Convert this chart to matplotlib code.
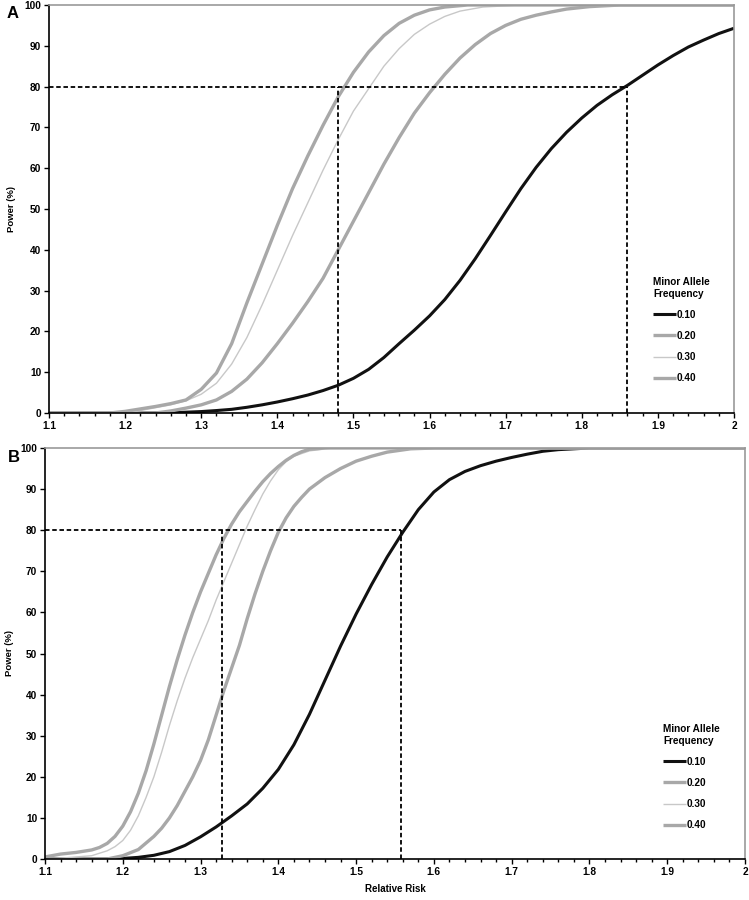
import matplotlib
matplotlib.use("Agg")
import matplotlib.pyplot as plt
from matplotlib.ticker import MultipleLocator

plt.rcParams['font.family'] = ['Liberation Sans', 'DejaVu Sans']
plt.rcParams['font.weight'] = 'bold'

# PANEL A data (relative risk vs power %)
rr_a_010 = [1.10, 1.25, 1.28, 1.30, 1.32, 1.34, 1.36, 1.38, 1.40, 1.42, 1.44, 1.46, 1.48,
            1.50, 1.52, 1.54, 1.56, 1.58, 1.60, 1.62, 1.64, 1.66, 1.68, 1.70, 1.72, 1.74,
            1.76, 1.78, 1.80, 1.82, 1.84, 1.86, 1.88, 1.90, 1.92, 1.94, 1.96, 1.98, 2.0]
pw_a_010 = [0, 0, 0.2, 0.35, 0.6, 0.9, 1.4, 2.0, 2.7, 3.5, 4.4, 5.5, 6.8,
            8.5, 10.7, 13.6, 17, 20.3, 23.8, 27.8, 32.5, 37.8, 43.5, 49.3, 55, 60.2,
            64.8, 68.8, 72.3, 75.4, 78.0, 80.3, 82.8, 85.3, 87.6, 89.7, 91.4, 93, 94.3]
rr_a_020 = [1.10, 1.24, 1.26, 1.28, 1.30, 1.32, 1.34, 1.36, 1.38, 1.40, 1.42, 1.44, 1.46,
            1.48, 1.50, 1.52, 1.54, 1.56, 1.58, 1.60, 1.62, 1.64, 1.66, 1.68, 1.70, 1.72,
            1.74, 1.76, 1.78, 1.81, 1.85, 2.0]
pw_a_020 = [0, 0, 0.5, 1.2, 2.0, 3.2, 5.3, 8.3, 12.3, 17, 22, 27.3, 33,
            40, 47, 54, 61, 67.5, 73.5, 78.5, 83, 87, 90.3, 93, 95, 96.5,
            97.5, 98.3, 99, 99.6, 100, 100]
rr_a_030 = [1.10, 1.20, 1.22, 1.24, 1.26, 1.28, 1.30, 1.32, 1.34, 1.36, 1.38, 1.40, 1.42,
            1.44, 1.46, 1.48, 1.50, 1.52, 1.54, 1.56, 1.58, 1.60, 1.62, 1.64, 1.67, 1.72, 2.0]
pw_a_030 = [0, 0, 0.6, 1.3, 2.0, 3.0, 4.6, 7.3, 12, 18.5, 26.5, 35, 43.5,
            51.5, 59.5, 67, 74, 79.5, 85, 89.3, 92.8, 95.3, 97.2, 98.5, 99.5, 100, 100]
rr_a_040 = [1.10, 1.18, 1.20, 1.22, 1.24, 1.26, 1.28, 1.30, 1.32, 1.34, 1.36, 1.38, 1.40,
            1.42, 1.44, 1.46, 1.48, 1.50, 1.52, 1.54, 1.56, 1.58, 1.60, 1.62, 1.65, 2.0]
pw_a_040 = [0, 0, 0.4, 1.0, 1.6, 2.3, 3.2, 5.8, 9.8, 17, 27, 36.5, 46,
            55, 63, 70.5, 77.5, 83.5, 88.5, 92.5, 95.5, 97.5, 98.8, 99.5, 100, 100]
cut_a = [1.48, 1.86]

# PANEL B data
rr_b_010 = [1.10, 1.19, 1.22, 1.24, 1.26, 1.28, 1.30, 1.32, 1.34, 1.36, 1.38, 1.40, 1.42,
            1.44, 1.46, 1.48, 1.50, 1.52, 1.54, 1.56, 1.58, 1.60, 1.62, 1.64, 1.66, 1.68,
            1.70, 1.72, 1.74, 1.76, 1.80, 2.0]
pw_b_010 = [0, 0, 0.4, 0.9, 1.8, 3.3, 5.4, 7.8, 10.5, 13.4, 17.2, 21.8, 27.8,
            35.2, 43.5, 51.8, 59.6, 66.8, 73.5, 79.5, 85, 89.3, 92.3, 94.3, 95.7, 96.8,
            97.7, 98.5, 99.2, 99.6, 100, 100]
rr_b_020 = [1.10, 1.18, 1.20, 1.22, 1.24, 1.25, 1.26, 1.27, 1.28, 1.29, 1.30, 1.31, 1.32,
            1.33, 1.34, 1.35, 1.36, 1.37, 1.38, 1.39, 1.40, 1.41, 1.42, 1.43, 1.44, 1.46,
            1.48, 1.50, 1.52, 1.54, 1.57, 1.60, 2.0]
pw_b_020 = [0, 0, 0.8, 2.3, 5.5, 7.5, 10, 13, 16.5, 20, 24, 29, 35,
            41, 46.5, 52, 58.5, 64.5, 70, 75, 79.5, 83, 85.8, 88, 90, 92.8,
            95, 96.8, 98, 99, 99.8, 100, 100]
rr_b_030 = [1.10, 1.12, 1.14, 1.16, 1.18, 1.19, 1.20, 1.21, 1.22, 1.23, 1.24, 1.25, 1.26,
            1.27, 1.28, 1.29, 1.30, 1.31, 1.32, 1.33, 1.34, 1.35, 1.36, 1.37, 1.38, 1.39,
            1.40, 1.41, 1.42, 1.44, 1.47, 2.0]
pw_b_030 = [0, 0.2, 0.5, 0.8, 2, 3, 4.5, 7, 10.5, 15, 20, 26, 32.5,
            38.5, 44, 49, 53.5, 58, 63, 67.5, 72, 76.5, 81, 85, 88.8, 92,
            94.7, 96.7, 98, 99.3, 100, 100]
rr_b_040 = [1.10, 1.12, 1.14, 1.16, 1.17, 1.18, 1.19, 1.20, 1.21, 1.22, 1.23, 1.24, 1.25,
            1.26, 1.27, 1.28, 1.29, 1.30, 1.31, 1.32, 1.33, 1.34, 1.35, 1.36, 1.37, 1.38,
            1.39, 1.40, 1.41, 1.42, 1.43, 1.44, 1.46, 2.0]
pw_b_040 = [0.5, 1.2, 1.6, 2.2, 2.8, 3.8, 5.5, 8, 11.5, 16, 21.5, 28, 35,
            42, 48.5, 54.5, 60, 65, 69.5, 74, 78, 81.5, 84.5, 87, 89.5, 91.8,
            93.8, 95.5, 97, 98.2, 99.1, 99.7, 100, 100]
cut_b = [1.327, 1.558]

maf_labels = ['0.10', '0.20', '0.30', '0.40']
line_styles = [
    {'color': '#111111', 'lw': 2.2},
    {'color': '#a8a8a8', 'lw': 2.4},
    {'color': '#c8c8c8', 'lw': 1.0},
    {'color': '#a8a8a8', 'lw': 2.4},
]


def draw_panel(ax, curves, cuts, legend_anchor, ylab_x):
    for (rr, pw), lab, st in zip(curves, maf_labels, line_styles):
        ax.plot(rr, pw, label=lab, solid_capstyle='butt', solid_joinstyle='round', **st)

    # 80% power guide lines
    dash = dict(color='black', lw=1.3, ls=(0, (2.5, 1.5)))
    ax.plot([1.1, cuts[1]], [80, 80], **dash)
    for c in cuts:
        ax.plot([c, c], [0, 80], **dash)

    ax.set_xlim(1.1, 2.0)
    ax.set_ylim(0, 100)
    ax.xaxis.set_major_locator(MultipleLocator(0.1))
    ax.xaxis.set_minor_locator(MultipleLocator(0.02))
    ax.yaxis.set_major_locator(MultipleLocator(10))
    ax.xaxis.set_major_formatter(plt.FuncFormatter(lambda v, p: f"{v:g}"))
    ax.tick_params(axis='both', which='major', direction='out', length=3.5,
                   width=1, labelsize=7.3, pad=2)
    ax.tick_params(axis='x', which='minor', direction='out', length=2.5, width=1)
    for s in ['left', 'bottom']:
        ax.spines[s].set_color('black')
        ax.spines[s].set_linewidth(1.2)
    for s in ['top', 'right']:
        ax.spines[s].set_color('#999999')
        ax.spines[s].set_linewidth(1.2)
    for t in ax.get_xticklabels() + ax.get_yticklabels():
        t.set_fontweight('bold')

    ax.set_ylabel('Power (%)', fontsize=6.8, fontweight='bold')
    ax.yaxis.set_label_coords(ylab_x, 0.5)

    leg = ax.legend(title='Minor Allele\nFrequency', frameon=False,
                    loc='upper left', bbox_to_anchor=legend_anchor,
                    bbox_transform=fig.transFigure, borderpad=0, borderaxespad=0,
                    handlelength=2.3, handletextpad=0.05, labelspacing=1.12,
                    alignment='left', prop={'size': 7.2, 'weight': 'bold'},
                    title_fontproperties={'size': 7.2, 'weight': 'bold'})
    leg._legend_box.sep = 8


fig = plt.figure(figsize=(7.49, 9.0), dpi=100)
ax_a = fig.add_axes([49 / 749, 1 - 413 / 900, (734 - 49) / 749, (413 - 5) / 900])
ax_b = fig.add_axes([45 / 749, 1 - 859 / 900, (745 - 45) / 749, (859 - 448) / 900])

draw_panel(ax_a, [(rr_a_010, pw_a_010), (rr_a_020, pw_a_020),
                  (rr_a_030, pw_a_030), (rr_a_040, pw_a_040)],
           cut_a, (653 / 749, 1 - 277 / 900), (16 - 49) / 685)
draw_panel(ax_b, [(rr_b_010, pw_b_010), (rr_b_020, pw_b_020),
                  (rr_b_030, pw_b_030), (rr_b_040, pw_b_040)],
           cut_b, (663 / 749, 1 - 724 / 900), (14 - 45) / 700)

ax_b.set_xlabel('Relative Risk', fontsize=7, fontweight='bold')
ax_b.xaxis.set_label_coords(0.5, -(884 - 859) / 411)

fig.text(13 / 749, 1 - 13 / 900, 'A', fontsize=12, fontweight='bold', ha='center', va='center')
fig.text(14 / 749, 1 - 458 / 900, 'B', fontsize=12, fontweight='bold', ha='center', va='center')

fig.savefig('out.png', dpi=100)
